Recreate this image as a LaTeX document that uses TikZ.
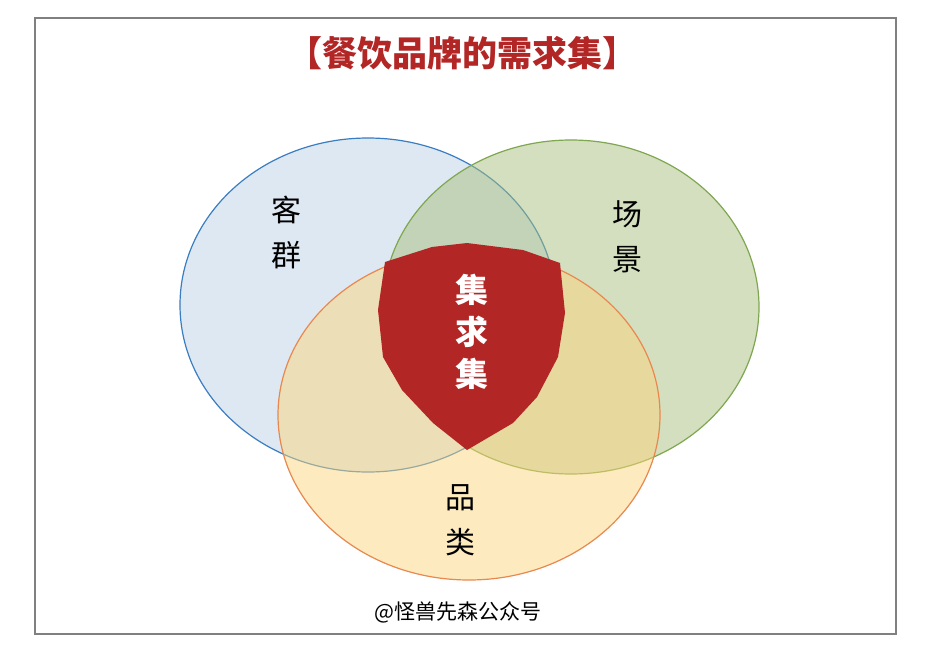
\documentclass[tikz,border=0pt]{standalone}
\usepackage{fontspec}
\newfontfamily\cjk{Noto Sans CJK SC}
\usepackage{tikz}
\definecolor{setred}{RGB}{178,38,37}
\definecolor{kqblue}{RGB}{189,209,231}
\definecolor{kqedge}{RGB}{58,125,192}
\definecolor{cjgreen}{RGB}{167,191,125}
\definecolor{cjedge}{RGB}{127,166,80}
\definecolor{plorange}{RGB}{251,213,125}
\definecolor{pledge}{RGB}{232,136,79}
\tikzset{
    setcircle/.style={fill opacity=0.5, line width=1.2pt},
    setlabel/.style={font=\cjk\fontsize{30}{45}\selectfont, align=center, text=black},
    corelabel/.style={font=\cjk\bfseries\fontsize{33}{42}\selectfont, align=center, text=white},
}

\begin{document}
\begin{tikzpicture}[x=1pt, y=-1pt]
\useasboundingbox (0,0) rectangle (925,658);
\draw[gray, line width=2pt] (35,18) rectangle (896,634);
\node (title) at (462,53) {\cjk\bfseries\fontsize{35}{40}\selectfont\color{setred}【餐饮品牌的需求集】};

% three sets
\filldraw[setcircle, fill=kqblue, draw=kqedge] (368,305) ellipse (188 and 167);
\filldraw[setcircle, fill=cjgreen, draw=cjedge] (571,307) ellipse (188 and 167);
\filldraw[setcircle, fill=plorange, draw=pledge] (469,415) ellipse (191 and 165);

% the core
\fill[setred] (385,262)--(432,247)--(467,243)--(523,250)--(560,263)--(565,313)--(558,357)
    --(537,397)--(513,423)--(467,450)--(433,423)--(402,390)--(383,357)--(378,310)--cycle;

\node[setlabel] (kequn) at (286,232) {客\\群};
\node[setlabel] (changjing) at (627,237) {场\\景};
\node[setlabel] (pinlei) at (460,520) {品\\类};
\node[corelabel] (core) at (472,332) {集\\求\\集};
\node (footer) at (458,612) {\cjk\fontsize{21}{24}\selectfont @怪兽先森公众号};
\end{tikzpicture}
\end{document}
